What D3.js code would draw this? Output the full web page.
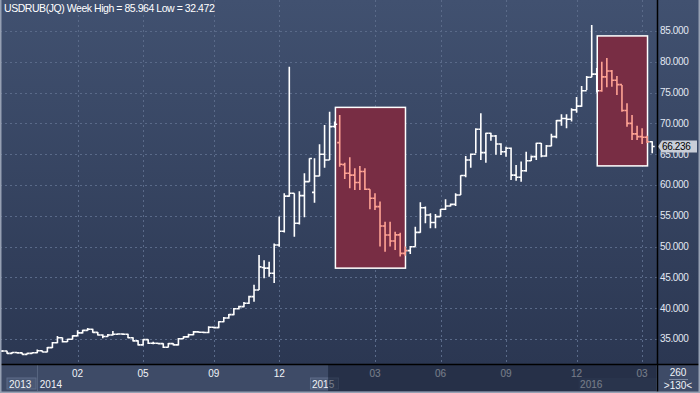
<!DOCTYPE html>
<html>
<head>
<meta charset="utf-8">
<script src="https://cdn.jsdelivr.net/npm/d3@7"></script>
<style>
body { margin: 0; background: #2c3954; }
svg { display: block; }
</style>
</head>
<body>
<script>
// weekly USDRUB bars, index 0 = first visible week
var open = [33.00,33.05,32.67,32.80,32.75,32.50,32.67,32.76,33.10,32.90,
	33.60,34.40,35.20,34.56,34.95,35.50,36.00,36.40,36.57,36.08,
	35.65,35.40,35.65,35.76,35.80,35.76,35.20,34.70,34.05,34.90,
	34.30,34.30,34.25,33.65,34.25,34.05,35.05,35.35,35.70,36.15,
	36.10,36.05,36.90,36.85,37.80,38.40,38.95,39.90,40.25,40.80,
	41.87,42.95,46.60,46.50,45.67,50.26,52.50,58.20,58.65,53.78,
	58.27,60.54,58.80,61.46,65.00,64.06,69.50,66.87,63.30,61.90,
	61.60,60.40,62.20,59.30,57.84,56.48,53.35,51.88,50.90,51.90,
	48.90,49.34,49.98,52.30,56.30,55.13,53.90,54.86,56.05,56.59,
	56.86,58.38,61.55,64.06,65.00,69.04,65.25,68.40,67.95,66.65,
	65.40,65.96,61.60,61.25,62.30,63.94,64.60,66.77,64.70,66.33,
	67.85,70.45,70.80,70.67,72.20,72.80,75.30,77.48,78.00,75.30,
	77.55,78.50,77.00,76.30,72.10,70.00,68.30,67.85,67.74,67.03];
var high = [33.20,33.10,32.90,32.90,32.80,32.75,32.85,33.30,33.15,33.70,
	34.50,35.50,35.25,35.05,35.60,36.40,36.50,36.80,36.65,36.15,
	35.75,35.80,36.30,35.95,35.95,35.85,35.30,34.80,35.00,34.95,
	34.55,34.40,34.30,34.35,34.30,35.15,35.45,35.85,36.30,36.25,
	36.20,37.05,37.00,37.90,38.55,39.05,40.05,40.40,41.00,42.00,
	43.80,48.64,47.80,47.55,50.50,54.90,58.65,79.20,58.65,59.00,
	61.90,64.33,64.33,66.60,69.74,71.90,70.30,71.36,63.60,64.50,
	62.70,63.10,62.70,59.30,58.65,57.30,54.04,54.04,52.40,52.26,
	50.00,50.10,53.24,57.20,56.50,55.40,55.30,56.10,57.68,57.00,
	58.65,61.60,64.70,65.10,69.20,71.64,68.50,68.50,68.10,66.77,
	66.20,66.10,63.25,63.80,65.40,64.80,66.87,66.80,66.50,68.30,
	70.55,71.50,71.50,72.45,74.30,76.07,77.70,85.964,79.00,80.00,
	80.60,78.67,77.70,76.23,73.26,71.36,69.60,69.20,68.00,67.10];
var low = [32.90,32.60,32.60,32.65,32.472,32.50,32.60,32.70,32.85,32.85,
	33.55,34.30,34.45,34.50,34.90,35.45,35.90,36.35,36.00,35.55,
	35.10,35.35,35.55,35.70,35.65,35.10,34.60,33.95,33.95,34.20,
	34.15,34.15,33.55,33.60,33.95,33.95,35.00,35.25,35.60,36.00,
	35.95,35.95,36.75,36.75,37.70,38.30,38.85,39.80,40.15,40.70,
	41.06,42.95,44.85,45.10,44.10,49.98,52.30,58.10,51.60,53.60,
	54.76,60.54,57.13,61.40,62.80,64.06,69.30,62.97,60.97,59.46,
	59.20,59.20,59.20,56.06,55.94,50.00,49.17,50.00,49.44,48.40,
	48.50,48.80,49.98,52.26,53.78,52.97,52.97,54.86,55.94,56.50,
	56.60,58.38,61.25,62.80,65.14,64.06,63.60,67.20,64.90,64.87,
	64.60,60.80,60.70,60.54,62.16,63.90,64.06,64.50,64.60,66.30,
	67.60,69.60,69.20,70.30,71.74,72.70,75.40,77.50,75.00,75.15,
	75.86,75.96,74.60,71.90,69.47,67.30,67.30,66.65,66.80,65.14];
var close = [33.05,32.67,32.80,32.75,32.50,32.67,32.76,33.10,32.90,33.60,
	34.40,35.20,34.56,34.95,35.50,36.00,36.40,36.57,36.08,35.65,
	35.40,35.65,35.76,35.80,35.76,35.20,34.70,34.05,34.90,34.30,
	34.30,34.25,33.65,34.25,34.05,35.05,35.35,35.70,36.15,36.10,
	36.05,36.90,36.85,37.80,38.40,38.95,39.90,40.25,40.80,41.87,
	42.95,46.70,46.50,45.67,50.26,52.50,58.20,58.65,53.78,58.27,
	60.54,64.30,61.46,65.00,64.06,69.47,69.86,63.36,61.90,61.60,
	60.40,62.20,59.30,57.84,56.48,53.35,51.88,50.90,51.90,48.90,
	49.34,49.98,52.30,56.30,55.13,53.90,54.86,56.05,56.59,56.86,
	58.38,61.55,64.06,65.00,69.04,65.25,68.40,67.95,66.65,65.40,
	65.96,61.60,61.25,62.30,63.94,64.60,66.77,64.70,66.33,67.85,
	70.45,70.80,70.67,72.20,72.80,75.30,77.48,78.00,75.30,77.55,
	78.50,77.00,76.30,72.10,70.00,68.30,67.85,67.74,67.03,66.236];

var priceTicks = [35, 40, 45, 50, 55, 60, 65, 70, 75, 80, 85];
var monthTicks = [15, 28, 42, 55, 74, 87, 100, 114, 127];
var monthLabels = ["02", "05", "09", "12", "03", "06", "09", "12", "03"];
var yearTicks = [1.4, 7.5, 61.5, 114.7];
var yearLabels = ["2013", "2014", "2015", "2016"];

// highlighted ranges (bar index from/to, price low/high)
var boxFrom = [66.15, 118.1];
var boxTo = [80.05, 128.07];
var boxLow = [46.5, 63.1];
var boxHigh = [72.6, 84.2];

var W = 700, H = 393;
var plotRight = 657, plotBottom = 364;
var font = "Liberation Sans, Arial, sans-serif";

var svg = d3.select("body").append("svg")
	.attr("width", W)
	.attr("height", H);

var x = d3.scaleLinear().domain([0, 129]).range([2, 652.2]);
var y = d3.scaleLinear().domain([30.94, 90.03]).range([plotBottom, 0]);

// background
var grad = svg.append("defs").append("linearGradient")
	.attr("id", "bg").attr("x1", 0).attr("y1", 0).attr("x2", 0).attr("y2", 1);
grad.append("stop").attr("offset", "0%").attr("stop-color", "#415170");
grad.append("stop").attr("offset", "100%").attr("stop-color", "#2b3752");
svg.append("rect").attr("width", W).attr("height", plotBottom).attr("fill", "url(#bg)");

// grid
svg.append("g").selectAll("line").data(priceTicks).enter().append("line")
	.attr("x1", 0).attr("x2", plotRight)
	.attr("y1", d => Math.round(y(d)) + 0.5).attr("y2", d => Math.round(y(d)) + 0.5)
	.attr("stroke", "#5a6a89").attr("stroke-dasharray", "2,3");
svg.append("g").selectAll("line").data(monthTicks).enter().append("line")
	.attr("x1", d => Math.round(x(d)) + 0.5).attr("x2", d => Math.round(x(d)) + 0.5)
	.attr("y1", 0).attr("y2", plotBottom)
	.attr("stroke", "#5a6a89").attr("stroke-dasharray", "2,3");

// highlight boxes
svg.append("g").selectAll("rect").data(boxFrom).enter().append("rect")
	.attr("x", (d, i) => x(boxFrom[i]))
	.attr("y", (d, i) => y(boxHigh[i]))
	.attr("width", (d, i) => x(boxTo[i]) - x(boxFrom[i]))
	.attr("height", (d, i) => y(boxLow[i]) - y(boxHigh[i]))
	.attr("fill", "#782d44")
	.attr("stroke", "#ffffff")
	.attr("stroke-width", 1.5);

function inBox(i) {
	for (var b = 0; b < boxFrom.length; b++) {
		if (i > boxFrom[b] && i < boxTo[b]) return true;
	}
	return false;
}

// ohlc bars
var bars = svg.append("g");
close.forEach(function(c, i) {
	var cx = x(i);
	bars.append("path")
		.attr("d", "M" + cx + "," + y(high[i]) + "V" + y(low[i]) +
			"M" + (cx - 2.5) + "," + y(open[i]) + "H" + cx +
			"M" + cx + "," + y(c) + "H" + (cx + 2.5))
		.attr("fill", "none")
		.attr("stroke", inBox(i) ? "#ffa394" : "#ffffff")
		.attr("stroke-width", 1.6);
});

// right axis panel
svg.append("rect").attr("x", plotRight).attr("y", 0).attr("width", W - plotRight).attr("height", plotBottom)
	.attr("fill", "url(#bg)");
svg.append("g").selectAll("text").data(priceTicks).enter().append("text")
	.attr("x", 660).attr("y", d => y(d) + 3.5)
	.attr("font-family", font)
	.attr("font-size", "10px")
	.attr("letter-spacing", "-0.35px")
	.attr("fill", "#e3e8f2")
	.text(d => d3.format(".3f")(d));

// last price tag
var last = close[close.length - 1];
var ly = y(last);
svg.append("path")
	.attr("d", "M658," + ly + "L662," + (ly - 6) + "H697V" + (ly + 6) + "H662Z")
	.attr("fill", "#c9ced8");
svg.append("text")
	.attr("x", 662).attr("y", ly + 3.5)
	.attr("font-family", font)
	.attr("font-size", "10px")
	.attr("letter-spacing", "-0.35px")
	.attr("fill", "#000")
	.text(d3.format(".3f")(last));

// bottom time strip
svg.append("rect").attr("x", 0).attr("y", plotBottom).attr("width", W).attr("height", H - plotBottom)
	.attr("fill", "#3e4b67");
svg.append("rect").attr("x", 7).attr("y", 378).attr("width", 29).attr("height", 11)
	.attr("fill", "#4a5874").attr("stroke", "#5e6c89");
svg.append("rect").attr("x", x(61.2)).attr("y", 378).attr("width", 28).attr("height", 11)
	.attr("fill", "#4a5874").attr("stroke", "#5e6c89");
svg.append("rect").attr("x", x(114.4)).attr("y", 378).attr("width", 78).attr("height", 12)
	.attr("fill", "#46536f");
svg.append("line").attr("x1", 37.5).attr("x2", 37.5).attr("y1", plotBottom).attr("y2", 391)
	.attr("stroke", "#56647f");

svg.append("g").selectAll("text").data(monthTicks).enter().append("text")
	.attr("x", d => x(d)).attr("y", 377)
	.attr("text-anchor", "middle")
	.attr("font-family", font)
	.attr("font-size", "10px")
	.attr("fill", "#f0f3f8")
	.text((d, i) => monthLabels[i]);
svg.append("g").selectAll("text").data(yearTicks).enter().append("text")
	.attr("x", d => x(d)).attr("y", 388)
	.attr("font-family", font)
	.attr("font-size", "10px")
	.attr("fill", "#f0f3f8")
	.text((d, i) => yearLabels[i]);

// scrolled range shade
svg.append("rect").attr("x", x(64.7)).attr("y", plotBottom + 1).attr("width", plotRight - 1 - x(64.7)).attr("height", 26)
	.attr("fill", "#121c30").attr("opacity", 0.55);

// bottom right box
svg.append("text").attr("x", 678).attr("y", 376).attr("text-anchor", "middle")
	.attr("font-family", font).attr("font-size", "10px")
	.attr("fill", "#f0f3f8").text("260");
svg.append("line").attr("x1", 669).attr("x2", 688).attr("y1", 379.5).attr("y2", 379.5)
	.attr("stroke", "#7d89a0");
svg.append("text").attr("x", 678).attr("y", 389).attr("text-anchor", "middle")
	.attr("font-family", font).attr("font-size", "10px")
	.attr("fill", "#f0f3f8").text(">130<");

// frame lines
svg.append("line").attr("x1", plotRight + 0.5).attr("x2", plotRight + 0.5).attr("y1", 0).attr("y2", H)
	.attr("stroke", "#000").attr("stroke-width", 1.5);
svg.append("line").attr("x1", 0).attr("x2", W).attr("y1", plotBottom + 0.5).attr("y2", plotBottom + 0.5)
	.attr("stroke", "#000").attr("stroke-width", 1.5);
svg.append("rect").attr("x", 0.75).attr("y", -2).attr("width", W - 1.5).attr("height", H + 1.25)
	.attr("fill", "none").attr("stroke", "#96a0b3").attr("stroke-width", 1.5);

// title
svg.append("text")
	.attr("x", 4).attr("y", 12)
	.attr("font-family", font)
	.attr("font-size", "10.5px")
	.attr("letter-spacing", "-0.45px")
	.attr("fill", "#ffffff")
	.text("USDRUB(JQ) Week High = " + d3.format(".3f")(d3.max(high)) + " Low = " + d3.format(".3f")(d3.min(low)));
</script>
</body>
</html>
